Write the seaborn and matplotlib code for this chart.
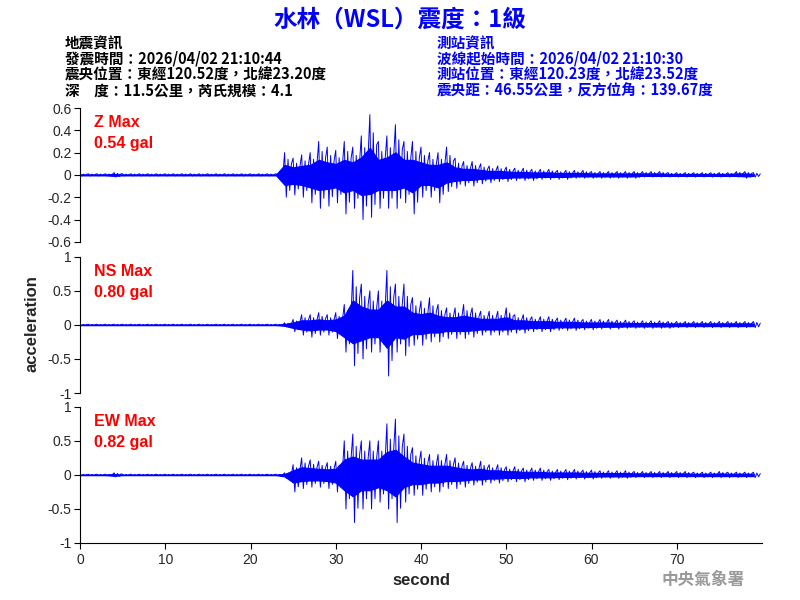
import numpy as np
import matplotlib
matplotlib.use("Agg")
import matplotlib.pyplot as plt
import seaborn as sns

# -------------------- Data (per-second peak envelope) --------------------
seconds = list(range(80))

z_upper = [0.01] * 4 + [0.02] + [0.01] * 19 + [
    0.20, 0.15, 0.18, 0.20, 0.30, 0.25, 0.22, 0.30, 0.25, 0.35,
    0.54, 0.30, 0.35, 0.45, 0.30, 0.30, 0.25, 0.20, 0.20, 0.25,
    0.15, 0.12, 0.12, 0.10, 0.08, 0.08, 0.07, 0.06, 0.06, 0.05,
    0.05, 0.05, 0.04, 0.04, 0.04, 0.04, 0.03, 0.03, 0.03, 0.03,
    0.03, 0.03, 0.03, 0.03, 0.03, 0.02, 0.02, 0.02, 0.02, 0.02,
    0.02, 0.02, 0.02, 0.03, 0.03, 0.02]
z_lower = [-0.01] * 4 + [-0.02] + [-0.01] * 19 + [
    -0.20, -0.18, -0.20, -0.25, -0.30, -0.28, -0.25, -0.35, -0.30, -0.40,
    -0.38, -0.30, -0.30, -0.30, -0.25, -0.35, -0.20, -0.20, -0.25, -0.15,
    -0.12, -0.10, -0.10, -0.08, -0.07, -0.06, -0.06, -0.05, -0.05, -0.05,
    -0.04, -0.04, -0.04, -0.04, -0.03, -0.03, -0.03, -0.03, -0.03, -0.03,
    -0.03, -0.03, -0.02, -0.02, -0.02, -0.02, -0.02, -0.02, -0.02, -0.02,
    -0.02, -0.02, -0.02, -0.02, -0.03, -0.02]

ns_upper = [0.01] * 24 + [
    0.03, 0.08, 0.15, 0.15, 0.18, 0.15, 0.18, 0.30, 0.80, 0.60,
    0.50, 0.50, 0.80, 0.60, 0.60, 0.40, 0.35, 0.40, 0.30, 0.25,
    0.25, 0.30, 0.25, 0.20, 0.20, 0.20, 0.25, 0.15, 0.15, 0.12,
    0.12, 0.12, 0.10, 0.10, 0.10, 0.08, 0.08, 0.08, 0.08, 0.07,
    0.07, 0.06, 0.06, 0.06, 0.06, 0.05, 0.05, 0.05, 0.05, 0.05,
    0.05, 0.05, 0.05, 0.05, 0.05, 0.05]
ns_lower = [-0.01] * 24 + [
    -0.03, -0.10, -0.15, -0.18, -0.15, -0.15, -0.20, -0.40, -0.60, -0.50,
    -0.40, -0.40, -0.75, -0.40, -0.45, -0.30, -0.30, -0.25, -0.25, -0.20,
    -0.20, -0.20, -0.18, -0.15, -0.15, -0.15, -0.15, -0.12, -0.12, -0.10,
    -0.10, -0.10, -0.08, -0.08, -0.08, -0.07, -0.07, -0.06, -0.06, -0.06,
    -0.05, -0.05, -0.05, -0.05, -0.05, -0.05, -0.04, -0.04, -0.04, -0.04,
    -0.04, -0.04, -0.04, -0.04, -0.04, -0.04]

ew_upper = [0.01] * 4 + [0.03] + [0.01] * 19 + [
    0.03, 0.15, 0.25, 0.22, 0.20, 0.18, 0.20, 0.50, 0.60, 0.50,
    0.50, 0.50, 0.75, 0.82, 0.60, 0.40, 0.35, 0.30, 0.30, 0.30,
    0.25, 0.20, 0.18, 0.20, 0.15, 0.15, 0.12, 0.12, 0.10, 0.10,
    0.10, 0.08, 0.08, 0.08, 0.08, 0.07, 0.07, 0.06, 0.06, 0.06,
    0.06, 0.05, 0.05, 0.05, 0.05, 0.05, 0.05, 0.05, 0.04, 0.04,
    0.04, 0.05, 0.04, 0.04, 0.04, 0.04]
ew_lower = [-0.01] * 4 + [-0.03] + [-0.01] * 19 + [
    -0.05, -0.25, -0.20, -0.18, -0.18, -0.20, -0.25, -0.50, -0.70, -0.50,
    -0.50, -0.40, -0.50, -0.70, -0.40, -0.30, -0.30, -0.25, -0.25, -0.20,
    -0.20, -0.18, -0.15, -0.15, -0.12, -0.12, -0.10, -0.10, -0.10, -0.08,
    -0.08, -0.08, -0.07, -0.07, -0.06, -0.06, -0.06, -0.05, -0.05, -0.05,
    -0.05, -0.04, -0.04, -0.04, -0.04, -0.04, -0.04, -0.04, -0.04, -0.04,
    -0.04, -0.04, -0.04, -0.04, -0.04, -0.04]

channels = ["Z", "NS", "EW"]
max_gal = ["0.54", "0.80", "0.82"]
x_ticks = [0, 10, 20, 30, 40, 50, 60, 70]

# -------------------- Figure --------------------
sns.set_style("white")
plt.rcParams['font.family'] = ['Noto Sans CJK TC', 'DejaVu Sans']
tick_font = ['Liberation Sans', 'DejaVu Sans']

fig = plt.figure(figsize=(8, 6), dpi=100)
boxes = [[0.1, 0.597, 0.8525, 0.223],
         [0.1, 0.345, 0.8525, 0.227],
         [0.1, 0.095, 0.8525, 0.227]]
envelopes = [(z_upper, z_lower), (ns_upper, ns_lower), (ew_upper, ew_lower)]
ylims = [(-0.6, 0.6), (-1, 1), (-1, 1)]
yticks = [[-0.6, -0.4, -0.2, 0, 0.2, 0.4, 0.6], [-1, -0.5, 0, 0.5, 1], [-1, -0.5, 0, 0.5, 1]]

for i, (box, (up, lo)) in enumerate(zip(boxes, envelopes)):
    ax = fig.add_axes(box)
    # dense body of the trace: band at half of the per-second peaks
    body_up = [0.45 * u for u in up]
    body_lo = [0.45 * l for l in lo]
    ax.fill_between(seconds, body_lo, body_up, color="blue", lw=0.8, edgecolor="blue")
    # spikes: zigzag between the upper and lower peaks of each second
    xs, ys = [], []
    for t, u, l in zip(seconds, up, lo):
        xs += [t, t + 0.2, t + 0.4, t + 0.6, t + 0.8]
        ys += [u, l, 0.7 * u, 0.7 * l, 0.5 * u]
    sns.lineplot(x=xs, y=ys, sort=False, estimator=None, color="blue", lw=0.7, ax=ax)
    ax.set_xlim(0, 80)
    ax.set_ylim(*ylims[i])
    ax.set_yticks(yticks[i])
    ax.set_yticklabels([f"{v:g}" for v in yticks[i]], fontsize=10, fontfamily=tick_font)
    for s in ["top", "right"]:
        ax.spines[s].set_visible(False)
    ax.spines["left"].set_color("black")
    ax.tick_params(axis="y", left=True, length=4, color="black", pad=2)
    if i < 2:
        ax.spines["bottom"].set_visible(False)
        ax.set_xticks([])
    else:
        ax.spines["bottom"].set_color("black")
        ax.set_xticks(x_ticks)
        ax.set_xticklabels([str(v) for v in x_ticks], fontsize=10, fontfamily=tick_font)
        ax.tick_params(axis="x", bottom=True, length=4, color="black")
        ax.set_xlabel("second", fontsize=12, fontweight="bold", fontfamily=tick_font)
    ax.text(0.02, 0.95, f"{channels[i]} Max\n{max_gal[i]} gal", transform=ax.transAxes,
            color="red", fontsize=11.5, fontweight="bold", va="top", linespacing=1.5,
            fontfamily=tick_font)

fig.text(0.04, 0.46, "acceleration", rotation=90, ha="center", va="center",
         fontsize=12, fontweight="bold", fontfamily=tick_font)

fig.text(0.5, 0.968, "水林（WSL）震度：1級", ha="center", va="center",
         color="blue", fontsize=17, fontweight="bold")

left_info = ["地震資訊",
             "發震時間：2026/04/02 21:10:44",
             "震央位置：東經120.52度，北緯23.20度",
             "深　度：11.5公里，芮氏規模：4.1"]
right_info = ["測站資訊",
              "波線起始時間：2026/04/02 21:10:30",
              "測站位置：東經120.23度，北緯23.52度",
              "震央距：46.55公里，反方位角：139.67度"]
for k, (a, b) in enumerate(zip(left_info, right_info)):
    y = 1 - (43 + 16 * k) / 600
    fig.text(65 / 800, y, a, fontsize=10.5, fontweight="bold", color="black", va="center")
    fig.text(437 / 800, y, b, fontsize=10.5, fontweight="bold", color="blue", va="center")

fig.text(745 / 800, 1 - 580 / 600, "中央氣象署", ha="right", va="center",
         fontsize=12, fontweight="bold", color="#999999")

fig.savefig("out.png", dpi=100)
